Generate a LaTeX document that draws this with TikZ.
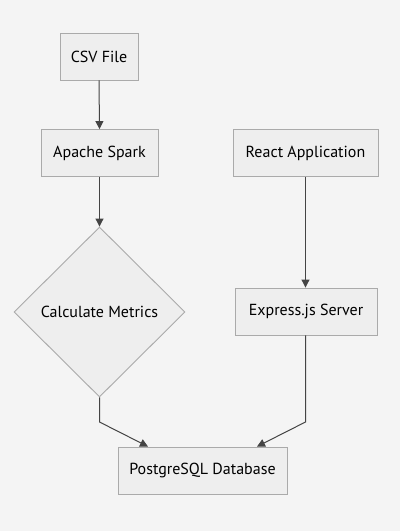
\documentclass[tikz,border=0pt]{standalone}
\usepackage{fontspec}
\setmainfont{PT Sans}
\usetikzlibrary{arrows.meta,shapes.geometric}
\definecolor{bg}{HTML}{F4F4F4}
\definecolor{boxfill}{HTML}{EEEEEE}
\definecolor{boxline}{HTML}{AAAAAA}
\definecolor{edge}{HTML}{444444}
\begin{document}
\begin{tikzpicture}[x=1pt,y=-1pt,
  box/.style={draw=boxline,fill=boxfill,line width=0.9pt,font=\fontsize{16}{19}\selectfont,text=black,inner sep=0pt,minimum height=47pt},
  dia/.style={draw=boxline,fill=boxfill,line width=0.9pt,font=\fontsize{16}{19}\selectfont,text=black,diamond,inner sep=0pt,minimum width=171pt,minimum height=170pt},
  conn/.style={draw=edge,line width=1pt,-{Triangle[length=8pt,width=8pt]}}]
\fill[bg] (0,0) rectangle (400,531);
\useasboundingbox (0,0) rectangle (400,531);
\node[box,minimum width=78pt] (csv) at (99,56.5) {CSV File};
\node[box,minimum width=117pt] (spark) at (99.5,153) {Apache Spark};
\node[dia] (calc) at (99.5,312) {Calculate Metrics};
\node[box,minimum width=145pt] (react) at (305.5,153) {React Application};
\node[box,minimum width=142pt] (express) at (306,311.5) {Express.js Server};
\node[box,minimum width=169pt] (pg) at (202.5,470.5) {PostgreSQL Database};
\coordinate (b1) at (99.5,422);
\coordinate (b2) at (305.5,422);
\draw[conn] (csv.south) -- (spark.north);
\draw[conn] (spark.south) -- (calc.north);
\draw[conn] (react.south -| 305.5,0) -- (express.north -| 305.5,0);
\draw[conn] (calc.south) -- (b1) -- (pg.north -| 148,0);
\draw[conn] (express.south -| 305.5,0) -- (b2) -- (pg.north -| 257,0);
\end{tikzpicture}
\end{document}
